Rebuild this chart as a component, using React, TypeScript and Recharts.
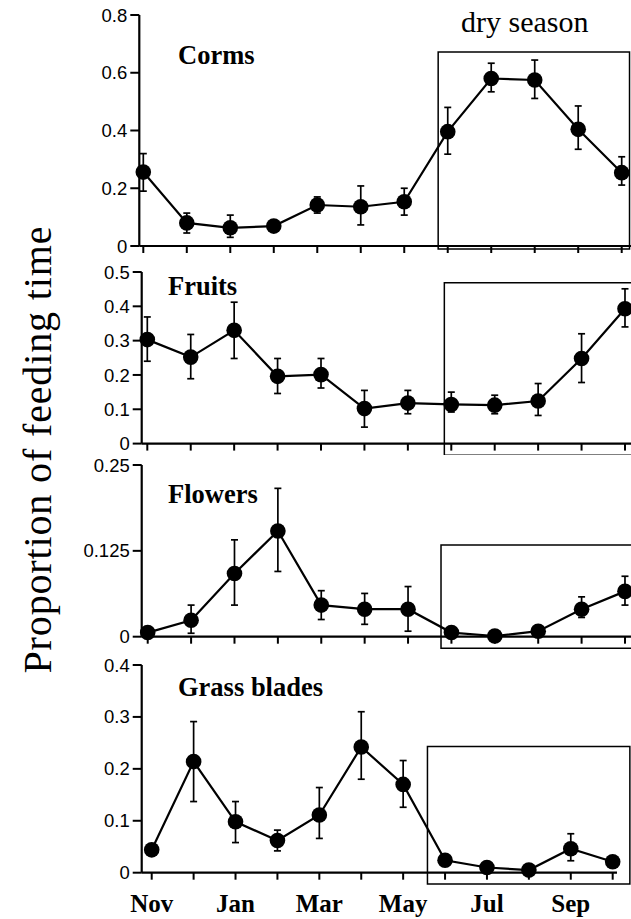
import React from 'react';
import { LineChart, Line, XAxis, YAxis, ErrorBar, ReferenceArea } from 'recharts';

// ---- data ----
const months = ['Nov', 'Dec', 'Jan', 'Feb', 'Mar', 'Apr', 'May', 'Jun', 'Jul', 'Aug', 'Sep', 'Oct'];
const xTickLabels = ['Nov', '', 'Jan', '', 'Mar', '', 'May', '', 'Jul', '', 'Sep', ''];

const cormsMean = [0.256, 0.080, 0.063, 0.069, 0.142, 0.136, 0.153, 0.396, 0.580, 0.575, 0.404, 0.254];
const cormsLow = [0.190, 0.045, 0.030, 0.069, 0.114, 0.073, 0.107, 0.318, 0.534, 0.511, 0.335, 0.211];
const cormsHigh = [0.320, 0.114, 0.107, 0.069, 0.170, 0.208, 0.200, 0.480, 0.633, 0.644, 0.485, 0.309];

const fruitsMean = [0.303, 0.252, 0.330, 0.196, 0.201, 0.102, 0.118, 0.114, 0.112, 0.124, 0.248, 0.393];
const fruitsLow = [0.240, 0.189, 0.248, 0.146, 0.162, 0.048, 0.087, 0.092, 0.087, 0.082, 0.178, 0.340];
const fruitsHigh = [0.369, 0.318, 0.412, 0.248, 0.248, 0.155, 0.155, 0.150, 0.141, 0.175, 0.320, 0.451];

const flowersMean = [0.006, 0.024, 0.092, 0.154, 0.046, 0.040, 0.040, 0.006, 0.001, 0.008, 0.040, 0.066];
const flowersLow = [0.006, 0.005, 0.046, 0.095, 0.025, 0.018, 0.008, 0.006, 0.001, 0.008, 0.028, 0.046];
const flowersHigh = [0.006, 0.046, 0.141, 0.216, 0.067, 0.063, 0.073, 0.006, 0.001, 0.008, 0.058, 0.088];

const grassMean = [0.044, 0.214, 0.098, 0.062, 0.111, 0.242, 0.170, 0.024, 0.010, 0.005, 0.046, 0.021];
const grassLow = [0.044, 0.137, 0.058, 0.042, 0.066, 0.180, 0.126, 0.024, 0.010, 0.005, 0.023, 0.021];
const grassHigh = [0.044, 0.291, 0.137, 0.082, 0.164, 0.310, 0.216, 0.024, 0.010, 0.005, 0.075, 0.021];

const cormsTicks = [0, 0.2, 0.4, 0.6, 0.8];
const fruitsTicks = [0, 0.1, 0.2, 0.3, 0.4, 0.5];
const flowersTicks = [0, 0.125, 0.25];
const grassTicks = [0, 0.1, 0.2, 0.3, 0.4];

// ---- layout ----
const W = 631;
const panels = [
  {
    key: 'corms', mean: cormsMean, low: cormsLow, high: cormsHigh, ticks: cormsTicks,
    top: 5, plotH: 231, axisW: 139.3, padL: 4, padR: 9.3, marginR: 0, xAxisH: 12, labels: false,
    box: { x1: 6.78, x2: 11.18, y1: -0.01, y2: 0.672 },
  },
  {
    key: 'fruits', mean: fruitsMean, low: fruitsLow, high: fruitsHigh, ticks: fruitsTicks,
    top: 261.7, plotH: 171.6, axisW: 141.7, padL: 5.6, padR: 6, marginR: 0, xAxisH: 12, labels: false,
    box: { x1: 6.84, x2: 11.3, y1: -0.034, y2: 0.469 },
  },
  {
    key: 'flowers', mean: flowersMean, low: flowersLow, high: flowersHigh, ticks: flowersTicks,
    top: 455, plotH: 171.7, axisW: 141.7, padL: 6, padR: 6, marginR: 0, xAxisH: 12, labels: false,
    box: { x1: 6.76, x2: 11.3, y1: -0.017, y2: 0.1335 },
  },
  {
    key: 'grass', mean: grassMean, low: grassLow, high: grassHigh, ticks: grassTicks,
    top: 655, plotH: 207.7, axisW: 141.7, padL: 10, padR: 4.3, marginR: 14, xAxisH: 45, labels: true,
    box: { x1: 6.58, x2: 11.41, y1: -0.022, y2: 0.243 },
  },
];

const titles = [
  { text: 'Corms', x: 178, y: 64 },
  { text: 'Fruits', x: 168, y: 295 },
  { text: 'Flowers', x: 168, y: 503 },
  { text: 'Grass blades', x: 178, y: 696 },
];

const idx = months.map((_, i) => i);

function Panel({ p }: { p: any }) {
  const data = months.map((m, i) => ({
    i,
    month: m,
    v: p.mean[i],
    err: [p.mean[i] - p.low[i], p.high[i] - p.mean[i]],
  }));
  const marginTop = 10;
  const height = marginTop + p.plotH + p.xAxisH;
  const yMax = p.ticks[p.ticks.length - 1];
  return (
    <div style={{ position: 'absolute', left: 0, top: p.top }}>
      <LineChart width={W} height={height} data={data} margin={{ top: marginTop, right: p.marginR, bottom: 0, left: 0 }}>
        <XAxis
          type="number"
          dataKey="i"
          domain={[0, 11]}
          ticks={idx}
          interval={0}
          padding={{ left: p.padL, right: p.padR }}
          height={p.xAxisH}
          tickSize={7}
          tickMargin={15}
          axisLine={{ stroke: '#000', strokeWidth: 2.2 }}
          tickLine={{ stroke: '#000', strokeWidth: 2 }}
          tickFormatter={(v: number) => (p.labels ? xTickLabels[v] : '')}
          tick={{ fill: '#000', fontSize: 25, fontWeight: 'bold', fontFamily: 'Liberation Serif, Times New Roman, serif' }}
        />
        <YAxis
          type="number"
          domain={[0, yMax]}
          ticks={p.ticks}
          interval={0}
          width={p.axisW}
          tickSize={9}
          tickMargin={3}
          axisLine={{ stroke: '#000', strokeWidth: 2.2 }}
          tickLine={{ stroke: '#000', strokeWidth: 2 }}
          tickFormatter={(v: number) => String(v)}
          tick={{ fill: '#000', fontSize: 18.5, fontFamily: 'Liberation Sans, Arial, sans-serif' }}
        />
        <ReferenceArea
          x1={p.box.x1}
          x2={p.box.x2}
          y1={p.box.y1}
          y2={p.box.y2}
          fill="none"
          fillOpacity={0}
          stroke="#000"
          strokeWidth={1.5}
          ifOverflow="visible"
        />
        <Line
          type="linear"
          dataKey="v"
          stroke="#000"
          strokeWidth={2.2}
          dot={{ r: 7.8, fill: '#000', stroke: '#000', strokeWidth: 0 }}
          activeDot={false}
          isAnimationActive={false}
        >
          <ErrorBar dataKey="err" direction="y" width={3.5} stroke="#000" strokeWidth={1.7} isAnimationActive={false} />
        </Line>
      </LineChart>
    </div>
  );
}

export default function App() {
  return (
    <div style={{ position: 'absolute', left: 0, top: 0, width: W, height: 919, background: '#fff' }}>
      {panels.map((p) => (
        <Panel key={p.key} p={p} />
      ))}
      <svg width={W} height={919} style={{ position: 'absolute', left: 0, top: 0, pointerEvents: 'none' }}>
        {titles.map((t) => (
          <text key={t.text} x={t.x} y={t.y} fontFamily="Liberation Serif, Times New Roman, serif" fontWeight="bold" fontSize={26.5} fill="#000">
            {t.text}
          </text>
        ))}
        <text x={461} y={32} fontFamily="Liberation Serif, Times New Roman, serif" fontSize={30} fill="#000">
          dry season
        </text>
        <text
          x={0}
          y={0}
          transform="translate(51,450) rotate(-90)"
          textAnchor="middle"
          fontFamily="Liberation Serif, Times New Roman, serif"
          fontSize={40}
          fill="#000"
          textLength={447}
          lengthAdjust="spacing"
        >
          Proportion of feeding time
        </text>
      </svg>
    </div>
  );
}
